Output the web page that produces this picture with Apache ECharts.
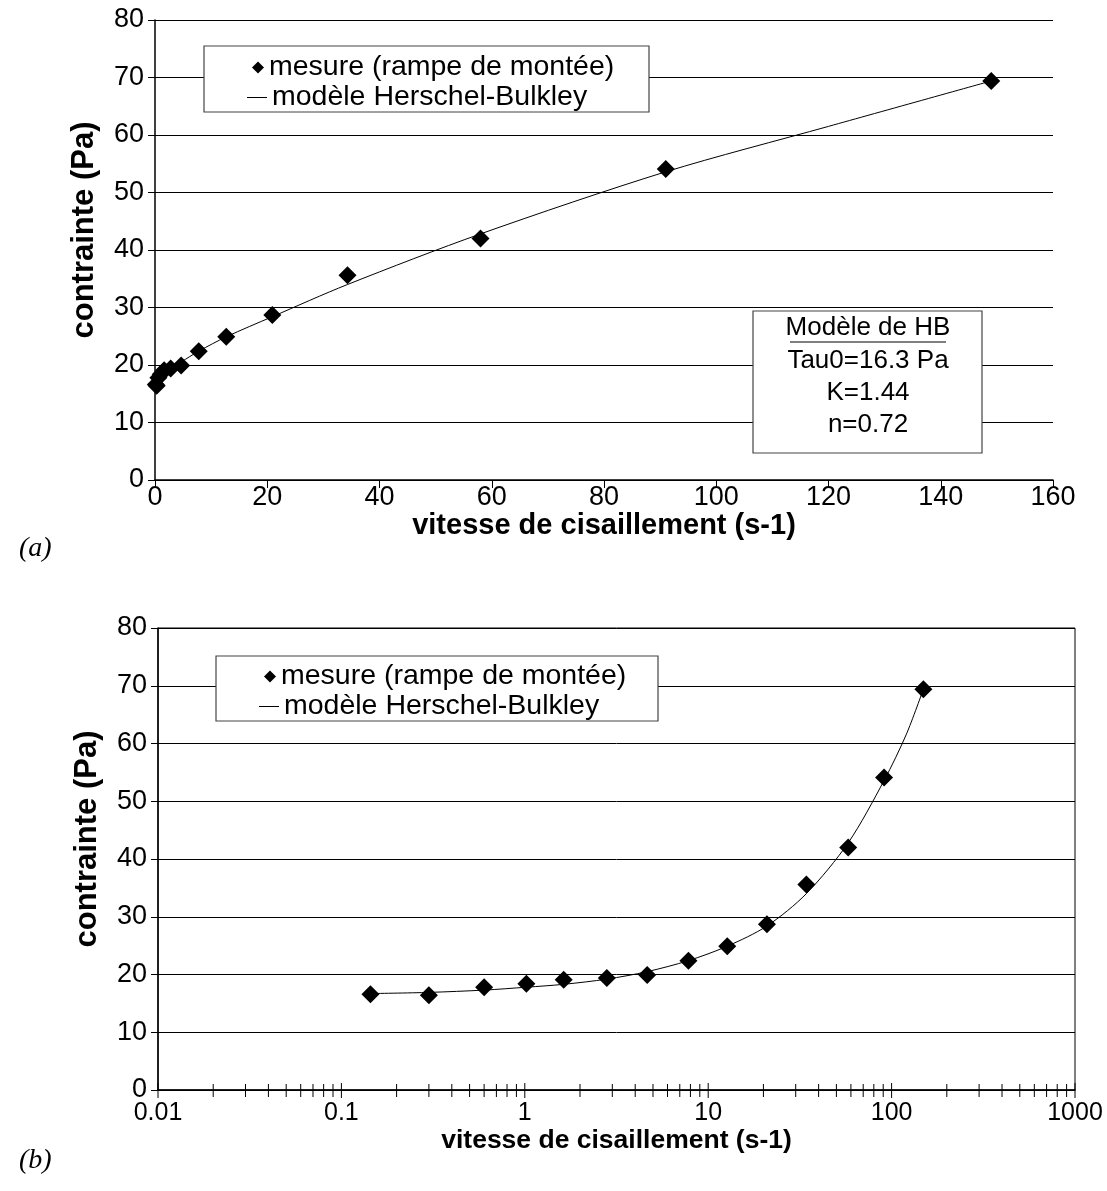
<!DOCTYPE html>
<html><head><meta charset="utf-8">
<script src="https://cdn.jsdelivr.net/npm/echarts@6/dist/echarts.min.js"></script>
<style>html,body{margin:0;padding:0;background:#fff}#c{width:1107px;height:1191px}</style>
</head><body><div id="c"></div>
<script>
// measured shear rate (s-1) and stress (Pa)
const shearRate = [0.144, 0.30, 0.60, 1.02, 1.63, 2.8, 4.65, 7.8, 12.7, 20.9, 34.3, 58, 91, 149];
const stress    = [16.6, 16.4, 17.8, 18.4, 19.1, 19.4, 19.9, 22.4, 24.9, 28.7, 35.6, 42.0, 54.1, 69.4];
// Herschel-Bulkley model curve
const modelRate   = [0.144, 0.30, 0.60, 1.02, 1.63, 2.8, 4.65, 7.8, 12.7, 20.9, 34.3, 58, 91, 120, 149];
const modelStress = [16.7, 16.9, 17.3, 17.8, 18.3, 19.2, 20.5, 22.4, 24.9, 28.4, 34.0, 42.8, 53.6, 61.5, 69.4];
// log axis tick positions (b)
const logMajorTicks = [0.01, 0.1, 1, 10, 100, 1000];
const logMinorTicks = [0.02,0.03,0.04,0.05,0.06,0.07,0.08,0.09,
  0.2,0.3,0.4,0.5,0.6,0.7,0.8,0.9, 2,3,4,5,6,7,8,9,
  20,30,40,50,60,70,80,90, 200,300,400,500,600,700,800,900];
const seriesNames = ['mesure (rampe de montée)', 'modèle Herschel-Bulkley'];
const hbBoxLines = ['Modèle de HB', 'Tau0=16.3 Pa', 'K=1.44', 'n=0.72'];

const FONT = 'Liberation Sans, Arial, sans-serif';
const pts = shearRate.map((x, i) => [x, stress[i]]);
const mdl = modelRate.map((x, i) => [x, modelStress[i]]);

const chart = echarts.init(document.getElementById('c'), null, {renderer: 'canvas'});
const yAxisCommon = {
  type: 'value', min: 0, max: 80, interval: 10,
  name: 'contrainte (Pa)', nameLocation: 'middle', nameGap: 55,
  nameTextStyle: {fontFamily: FONT, fontSize: 31, fontWeight: 'bold', color: '#000', padding: [0, 0, 0, 40]},
  axisLine: {show: true, lineStyle: {color: '#000', width: 1.5}},
  axisTick: {show: true, length: 7, lineStyle: {color: '#000'}},
  axisLabel: {fontFamily: FONT, fontSize: 27, color: '#000', margin: 11},
  splitLine: {show: true, lineStyle: {color: '#000', width: 1}}
};
const xName = 'vitesse de cisaillement (s-1)';
const legendText = {fontFamily: FONT, fontSize: 28.5, color: '#000'};

function tickItem(len) {
  return function (params, api) {
    const p = api.coord([api.value(0), 0]);
    return {type: 'line', shape: {x1: p[0], y1: p[1] - len, x2: p[0], y2: p[1] + len + 1},
      style: {stroke: '#000', lineWidth: 1}};
  };
}

chart.setOption({
  animation: false,
  backgroundColor: '#fff',
  grid: [
    {left: 155, right: 54, top: 20, bottom: 711},
    {left: 158, right: 32, top: 628, bottom: 101, show: true, borderColor: '#000', borderWidth: 1}
  ],
  xAxis: [
    {gridIndex: 0, type: 'value', min: 0, max: 160, interval: 20,
     name: xName, nameLocation: 'middle', nameGap: 29,
     nameTextStyle: {fontFamily: FONT, fontSize: 29, fontWeight: 'bold', color: '#000'},
     axisLine: {show: true, onZero: false, lineStyle: {color: '#000', width: 1.5}},
     axisTick: {show: true, length: 8, lineStyle: {color: '#000'}},
     axisLabel: {fontFamily: FONT, fontSize: 27, color: '#000', margin: 4},
     splitLine: {show: false}},
    {gridIndex: 1, type: 'log', logBase: 10, min: 0.01, max: 1000,
     name: xName, nameLocation: 'middle', nameGap: 32,
     nameTextStyle: {fontFamily: FONT, fontSize: 26.5, fontWeight: 'bold', color: '#000'},
     axisLine: {show: true, onZero: false, lineStyle: {color: '#000', width: 1.5}},
     axisTick: {show: false},
     axisLabel: {fontFamily: FONT, fontSize: 25, color: '#000', margin: 11,
       formatter: v => String(parseFloat(Number(v).toPrecision(3)))},
     splitLine: {show: false}}
  ],
  yAxis: [
    Object.assign({gridIndex: 0}, yAxisCommon),
    Object.assign({gridIndex: 1}, yAxisCommon)
  ],
  legend: [
    {data: [{name: seriesNames[0], icon: 'diamond'}], left: 252, top: 53, orient: 'vertical',
     itemWidth: 12, itemHeight: 12, padding: 0, selectedMode: false, z: 20, textStyle: legendText,
     itemStyle: {opacity: 1}},
    {data: [{name: seriesNames[1], icon: 'path://M0,0H20V1H0Z'}], left: 247, top: 83, orient: 'vertical',
     itemWidth: 20, itemHeight: 1, padding: 0, selectedMode: false, z: 20, textStyle: legendText},
    {data: [{name: seriesNames[0], icon: 'diamond'}], left: 264, top: 662, orient: 'vertical',
     itemWidth: 12, itemHeight: 12, padding: 0, selectedMode: false, z: 20, textStyle: legendText,
     itemStyle: {opacity: 1}},
    {data: [{name: seriesNames[1], icon: 'path://M0,0H20V1H0Z'}], left: 259, top: 692, orient: 'vertical',
     itemWidth: 20, itemHeight: 1, padding: 0, selectedMode: false, z: 20, textStyle: legendText}
  ],
  graphic: [
    {type: 'rect', z: 10, shape: {x: 204, y: 46, width: 445, height: 66},
     style: {fill: '#fff', stroke: '#444', lineWidth: 1.2}},
    {type: 'rect', z: 10, shape: {x: 216, y: 656, width: 442, height: 65},
     style: {fill: '#fff', stroke: '#444', lineWidth: 1.2}},
    {type: 'rect', z: 10, shape: {x: 753, y: 311, width: 229, height: 142},
     style: {fill: '#fff', stroke: '#444', lineWidth: 1.2}},
    {type: 'text', z: 11, x: 868, y: 328, style: {text: hbBoxLines[0], font: '26px ' + FONT, fill: '#000', align: 'center', verticalAlign: 'middle'}},
    {type: 'line', z: 11, shape: {x1: 790, y1: 342, x2: 946, y2: 342}, style: {stroke: '#000', lineWidth: 1.2}},
    {type: 'text', z: 11, x: 868, y: 361, style: {text: hbBoxLines[1], font: '26px ' + FONT, fill: '#000', align: 'center', verticalAlign: 'middle'}},
    {type: 'text', z: 11, x: 868, y: 393, style: {text: hbBoxLines[2], font: '26px ' + FONT, fill: '#000', align: 'center', verticalAlign: 'middle'}},
    {type: 'text', z: 11, x: 868, y: 425, style: {text: hbBoxLines[3], font: '26px ' + FONT, fill: '#000', align: 'center', verticalAlign: 'middle'}},
    {type: 'text', z: 11, x: 19, y: 549, style: {text: '(a)', font: 'italic 28px Liberation Serif, Times New Roman, serif', fill: '#000', verticalAlign: 'middle'}},
    {type: 'text', z: 11, x: 19, y: 1161, style: {text: '(b)', font: 'italic 28px Liberation Serif, Times New Roman, serif', fill: '#000', verticalAlign: 'middle'}}
  ],
  series: [
    {name: seriesNames[1], type: 'line', xAxisIndex: 0, yAxisIndex: 0, data: mdl, smooth: 0.3,
     showSymbol: false, symbol: 'none', lineStyle: {color: '#000', width: 1}, itemStyle: {color: '#000'}, z: 3},
    {name: seriesNames[0], type: 'scatter', xAxisIndex: 0, yAxisIndex: 0, data: pts,
     symbol: 'diamond', symbolSize: 18, itemStyle: {color: '#000', opacity: 1}, z: 4},
    {name: seriesNames[1], type: 'line', xAxisIndex: 1, yAxisIndex: 1, data: mdl, smooth: 0.3,
     showSymbol: false, symbol: 'none', lineStyle: {color: '#000', width: 1}, itemStyle: {color: '#000'}, z: 3},
    {name: seriesNames[0], type: 'scatter', xAxisIndex: 1, yAxisIndex: 1, data: pts,
     symbol: 'diamond', symbolSize: 18, itemStyle: {color: '#000', opacity: 1}, z: 4},
    {type: 'custom', xAxisIndex: 1, yAxisIndex: 1, data: logMinorTicks.map(v => [v, 0]),
     renderItem: tickItem(6), clip: false, silent: true, z: 5},
    {type: 'custom', xAxisIndex: 1, yAxisIndex: 1, data: logMajorTicks.map(v => [v, 0]),
     renderItem: tickItem(7), clip: false, silent: true, z: 5}
  ]
});
</script></body></html>
